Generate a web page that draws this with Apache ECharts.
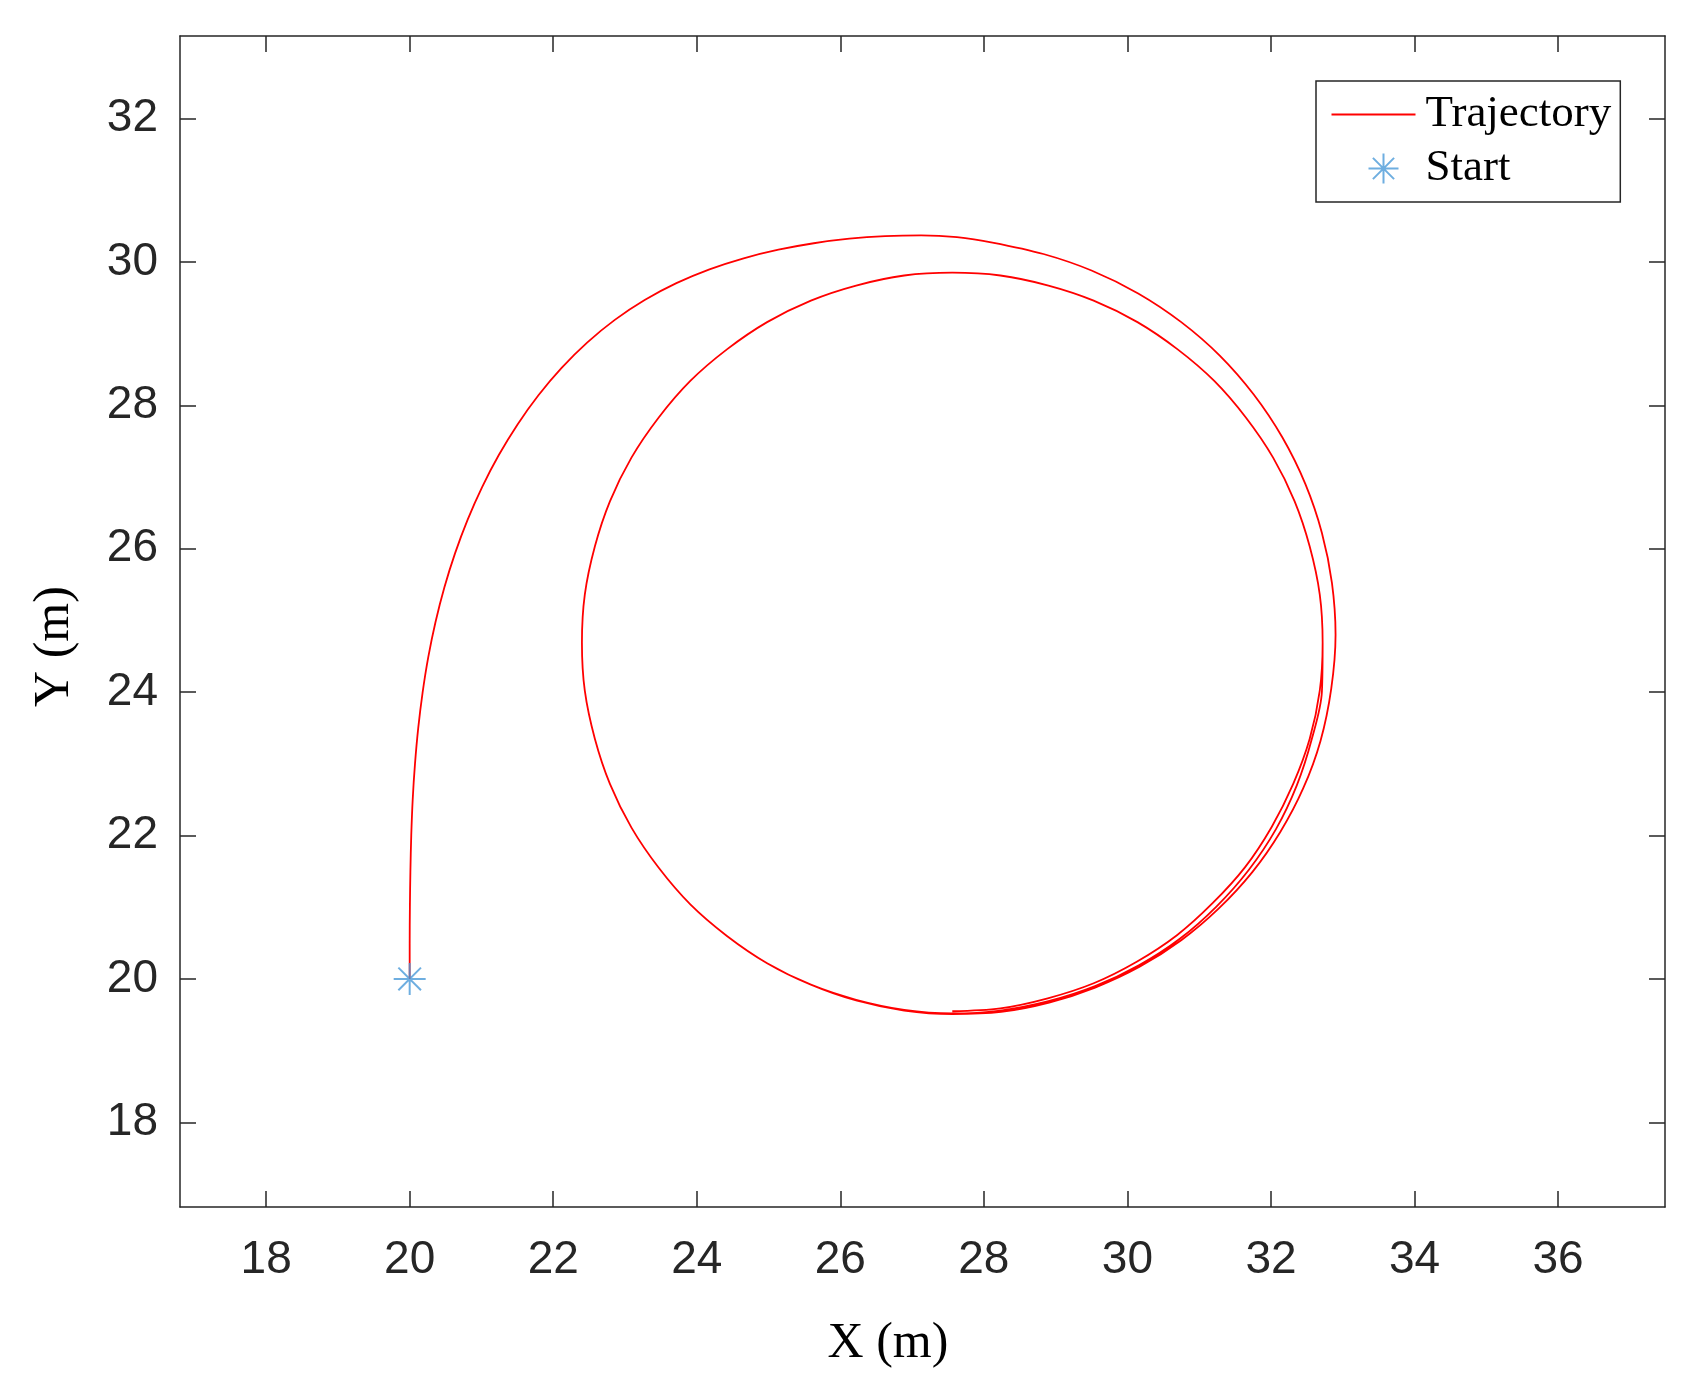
<!DOCTYPE html>
<html>
<head>
<meta charset="utf-8">
<script src="https://cdn.jsdelivr.net/npm/echarts@6/dist/echarts.min.js"></script>
<style>
html,body{margin:0;padding:0;background:#fff;}
#chart{width:1700px;height:1388px;}
</style>
</head>
<body>
<div id="chart"></div>
<script>
// Trajectory points (X, Y in metres), in drive order
const trajX = [
  // first pass: start, spiral in
  20.000, 20.000, 20.003, 20.010, 20.022, 20.042, 20.074, 20.119, 20.180, 20.259,
  20.360, 20.484, 20.633, 20.808, 21.011, 21.242, 21.503, 21.794, 22.117, 22.472,
  22.858, 23.274, 23.716, 24.177, 24.653, 25.138, 25.630, 26.126, 26.625, 27.125,
  27.625, 28.120, 28.830, 29.500, 30.150, 30.750, 31.290, 31.760, 32.160, 32.480,
  32.710, 32.850, 32.900, 32.840, 32.690, 32.450, 32.130, 31.740, 31.270, 30.750,
  30.170, 29.550, 28.910, 28.240, 27.560, 26.890, 26.220,
  // second pass
  25.59, 24.98, 24.42, 23.91, 23.47, 23.09, 22.79, 22.58, 22.44, 22.40,
  22.44, 22.58, 22.79, 23.09, 23.47, 23.91, 24.42, 24.98, 25.59, 26.22,
  26.89, 27.56, 28.23, 28.90, 29.53, 30.14, 30.70, 31.21, 31.65, 32.03,
  32.33, 32.54, 32.68, 32.72, 32.71, 32.57, 32.36, 32.07, 31.69, 31.24,
  30.73, 30.16, 29.55, 28.90, 28.23, 27.56, 26.89, 26.22,
  // third pass
  25.59, 24.98, 24.42, 23.91, 23.47, 23.09, 22.79, 22.58, 22.44, 22.40,
  22.44, 22.58, 22.79, 23.09, 23.47, 23.91, 24.42, 24.98, 25.59, 26.22,
  26.89, 27.56, 28.23, 28.90, 29.53, 30.14, 30.70, 31.21, 31.65, 32.03,
  32.33, 32.54, 32.68, 32.72, 32.68, 32.54, 32.31, 32.01, 31.64, 31.19,
  30.69, 30.13, 29.53, 28.89, 28.23, 27.56
];
const trajY = [
  // first pass
  20.000, 20.500, 21.000, 21.500, 22.000, 22.500, 22.999, 23.497, 23.993, 24.487,
  24.977, 25.461, 25.938, 26.406, 26.863, 27.306, 27.733, 28.140, 28.522, 28.874,
  29.191, 29.468, 29.703, 29.896, 30.050, 30.170, 30.260, 30.323, 30.359, 30.370,
  30.345, 30.270, 30.110, 29.880, 29.560, 29.160, 28.690, 28.150, 27.550, 26.900,
  26.220, 25.520, 24.800, 24.050, 23.320, 22.660, 22.050, 21.490, 20.980, 20.540,
  20.170, 19.880, 19.670, 19.540, 19.510, 19.560, 19.700,
  // second pass
  19.92, 20.22, 20.60, 21.04, 21.55, 22.11, 22.72, 23.35, 24.02, 24.69,
  25.36, 26.03, 26.66, 27.27, 27.83, 28.34, 28.78, 29.16, 29.46, 29.67,
  29.81, 29.85, 29.81, 29.67, 29.46, 29.16, 28.78, 28.34, 27.83, 27.27,
  26.66, 26.03, 25.36, 24.69, 24.01, 23.35, 22.70, 22.09, 21.52, 21.01,
  20.56, 20.19, 19.90, 19.69, 19.56, 19.52, 19.57, 19.71,
  // third pass
  19.92, 20.22, 20.60, 21.04, 21.55, 22.11, 22.72, 23.35, 24.02, 24.69,
  25.36, 26.03, 26.66, 27.27, 27.83, 28.34, 28.78, 29.16, 29.46, 29.67,
  29.81, 29.85, 29.81, 29.67, 29.46, 29.16, 28.78, 28.34, 27.83, 27.27,
  26.66, 26.03, 25.36, 24.69, 24.02, 23.35, 22.72, 22.12, 21.56, 21.06,
  20.61, 20.24, 19.94, 19.73, 19.59, 19.55
];
const startX = [20];
const startY = [20];
const xTickValues = [18, 20, 22, 24, 26, 28, 30, 32, 34, 36];
const yTickValues = [18, 20, 22, 24, 26, 28, 30, 32];
const xRange = [16.8, 37.49];
const yRange = [16.82, 33.15];

const trajData = trajX.map((x, i) => [x, trajY[i]]);
const startData = startX.map((x, i) => [x, startY[i]]);

const axisColor = '#262626';
const starColor = '#4a9ad8';
const starPath = 'path://M0,-16L0,16M-16,0L16,0M-11.3,-11.3L11.3,11.3M-11.3,11.3L11.3,-11.3';
// legend icons: star drawn 30px tall and offset right inside an 84x40 box; thin line for the trajectory
const starLegendIcon = 'path://M-52,-20M32,20M0,-15L0,15M-15,0L15,0M-10.6,-10.6L10.6,10.6M-10.6,10.6L10.6,-10.6';
const lineLegendIcon = 'path://M0,0L84,0L84,1.8L0,1.8Z';

const chart = echarts.init(document.getElementById('chart'), null, {renderer: 'canvas'});

function xAxisCfg(pos, showLabels) {
  return {
    type: 'value', position: pos, min: xRange[0], max: xRange[1],
    axisLine: {show: true, onZero: false, lineStyle: {color: axisColor, width: 1.5}},
    axisTick: {show: true, inside: true, length: 16, customValues: xTickValues,
      lineStyle: {color: axisColor, width: 1.5}},
    axisLabel: {show: showLabels, customValues: xTickValues, margin: 30,
      fontFamily: 'Liberation Sans', fontSize: 46, color: axisColor},
    splitLine: {show: false}
  };
}
function yAxisCfg(pos, showLabels) {
  return {
    type: 'value', position: pos, min: yRange[0], max: yRange[1],
    axisLine: {show: true, onZero: false, lineStyle: {color: axisColor, width: 1.5}},
    axisTick: {show: true, inside: true, length: 16, customValues: yTickValues,
      lineStyle: {color: axisColor, width: 1.5}},
    axisLabel: {show: showLabels, customValues: yTickValues, margin: 22,
      fontFamily: 'Liberation Sans', fontSize: 46, color: axisColor},
    splitLine: {show: false}
  };
}

const xBottom = xAxisCfg('bottom', true);
xBottom.name = 'X (m)';
xBottom.nameLocation = 'middle';
xBottom.nameGap = 112;
xBottom.nameTextStyle = {fontFamily: 'Liberation Serif', fontSize: 50, color: '#000', padding: [0, 69, 0, 0]};
const yLeft = yAxisCfg('left', true);
yLeft.name = 'Y (m)';
yLeft.nameLocation = 'middle';
yLeft.nameGap = 100;
yLeft.nameTextStyle = {fontFamily: 'Liberation Serif', fontSize: 50, color: '#000', padding: [0, 50, 0, 0]};

chart.setOption({
  animation: false,
  backgroundColor: '#fff',
  grid: {left: 180, top: 36, right: 35, bottom: 181, containLabel: false},
  xAxis: [xBottom, xAxisCfg('top', false)],
  yAxis: [yLeft, yAxisCfg('right', false)],
  legend: {
    orient: 'vertical', left: 1316, top: 81,
    padding: [11, 9, 11, 13],
    itemWidth: 84, itemHeight: 40, itemGap: 9,
    backgroundColor: '#fff', borderColor: axisColor, borderWidth: 1.5,
    textStyle: {fontFamily: 'Liberation Serif', fontSize: 45, color: '#000', padding: [0, 0, 0, 5]},
    data: [
      {name: 'Trajectory', icon: lineLegendIcon, itemStyle: {color: '#ff0000', borderWidth: 0}},
      {name: 'Start', icon: starLegendIcon, itemStyle: {color: 'none', borderColor: starColor, borderWidth: 2}}
    ]
  },
  series: [
    {
      name: 'Trajectory', type: 'line', xAxisIndex: 0, yAxisIndex: 0,
      data: trajData, smooth: 0.33, symbol: 'none', showSymbol: false,
      lineStyle: {color: '#ff0000', width: 1.8}, itemStyle: {color: '#ff0000'}, z: 2
    },
    {
      name: 'Start', type: 'scatter', xAxisIndex: 0, yAxisIndex: 0,
      data: startData, symbol: starPath, symbolSize: 32,
      itemStyle: {color: 'none', borderColor: starColor, borderWidth: 2}, z: 3
    }
  ]
});
</script>
</body>
</html>
